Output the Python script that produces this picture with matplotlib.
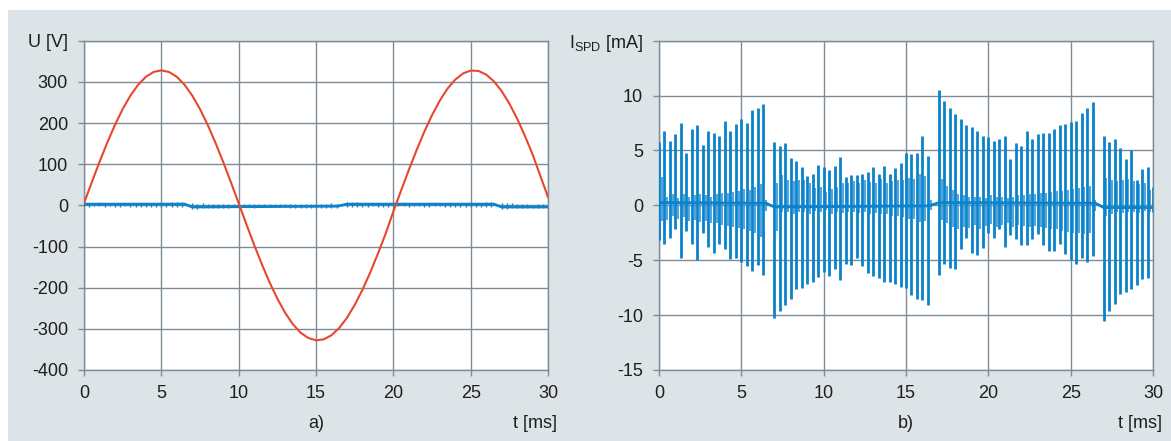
import numpy as np
import matplotlib
matplotlib.use("Agg")
import matplotlib.pyplot as plt
from matplotlib import font_manager
from matplotlib.patches import Rectangle

# ---------------- data ----------------
# a) mains voltage U [V], sampled every 0.5 ms from 0 to 30 ms
u_t = np.linspace(0, 30, 61)
u_v = [5.1, 55.8, 105.2, 152.1, 195.3, 233.8, 266.6, 292.9, 312.3, 324.0,
       328.0, 324.0, 312.3, 293.0, 266.6, 233.8, 195.3, 152.1, 105.3, 55.8,
       5.0, -45.9, -95.9, -143.2, -187.2, -226.6, -260.7, -288.6, -309.2, -322.3,
       -327.9, -325.6, -315.5, -297.9, -273.4, -242.1, -205.3, -163.6, -117.7, -69.0,
       -15.1, 35.8, 85.9, 133.9, 178.6, 219.1, 254.2, 283.5, 305.4, 320.3,
       327.4, 326.6, 317.8, 301.4, 277.8, 247.3, 210.9, 169.4, 124.1, 72.0,
       20.0]

# b) SPD current pulses [mA]: main pulse times, positive and negative peaks
pulse_t = [0.0, 0.33, 0.67, 1.0, 1.33, 1.67, 2.0, 2.33, 2.67, 3.0,
           3.33, 3.67, 4.0, 4.33, 4.67, 5.0, 5.33, 5.67, 6.0, 6.33,
           7.0, 7.33, 7.67, 8.0, 8.33, 8.67, 9.0, 9.33, 9.67, 10.0,
           10.33, 10.67, 11.0, 11.33, 11.67, 12.0, 12.33, 12.67, 13.0, 13.33,
           13.67, 14.0, 14.33, 14.67, 15.0, 15.33, 15.67, 16.0, 16.33,
           17.0, 17.33, 17.67, 18.0, 18.33, 18.67, 19.0, 19.33, 19.67, 20.0,
           20.33, 20.67, 21.0, 21.33, 21.67, 22.0, 22.33, 22.67, 23.0, 23.33,
           23.67, 24.0, 24.33, 24.67, 25.0, 25.33, 25.67, 26.0, 26.33,
           27.0, 27.33, 27.67, 28.0, 28.33, 28.67, 29.0, 29.33, 29.67, 29.97]
pulse_hi = [5.8, 6.8, 5.9, 6.5, 7.5, 4.8, 7.0, 7.3, 5.5, 6.8,
            6.6, 6.3, 7.7, 6.8, 7.4, 7.9, 7.5, 8.7, 8.9, 9.2,
            5.8, 5.4, 5.7, 4.3, 4.0, 3.5, 2.7, 2.9, 3.7, 3.5,
            3.2, 3.6, 4.4, 2.6, 2.8, 2.8, 2.9, 3.0, 3.5, 2.9,
            3.6, 2.9, 3.4, 3.9, 4.8, 4.7, 4.8, 6.3, 4.5,
            10.5, 9.5, 8.9, 8.3, 7.9, 7.3, 7.1, 6.8, 6.3, 6.2,
            5.9, 6.0, 6.3, 4.2, 5.7, 5.4, 6.8, 6.0, 6.5, 6.6,
            6.6, 7.0, 7.3, 7.4, 7.6, 7.7, 8.4, 8.9, 9.4,
            6.3, 5.8, 6.0, 5.2, 4.2, 5.0, 2.3, 3.3, 3.5, 1.7]
pulse_lo = [-3.2, -3.5, -3.0, -2.2, -4.8, -2.3, -3.5, -5.0, -2.5, -3.8,
            -4.3, -3.5, -4.0, -4.9, -4.8, -5.2, -5.5, -6.0, -5.4, -6.3,
            -10.3, -9.6, -9.1, -8.5, -7.6, -7.5, -7.2, -7.0, -6.5, -6.1,
            -6.4, -5.8, -6.8, -5.3, -5.4, -4.8, -5.5, -6.2, -6.4, -6.6,
            -7.0, -7.0, -7.2, -7.4, -7.5, -8.2, -8.5, -8.6, -9.1,
            -6.3, -5.3, -5.7, -5.8, -4.0, -3.0, -4.3, -4.5, -3.9, -2.5,
            -3.0, -2.2, -3.8, -2.7, -3.1, -3.6, -3.6, -3.1, -2.6, -3.6,
            -4.2, -4.2, -3.5, -4.4, -5.0, -5.3, -4.8, -5.2, -4.6,
            -10.5, -9.6, -9.0, -8.1, -7.9, -7.6, -7.3, -6.7, -6.6, -0.6]

# secondary (smaller) oscillations between the main pulses [mA]
small_t = [0.17, 0.5, 0.83, 1.17, 1.5, 1.83, 2.17, 2.5, 2.83, 3.17,
           3.5, 3.83, 4.17, 4.5, 4.83, 5.17, 5.5, 5.83, 6.17, 6.5,
           7.17, 7.5, 7.83, 8.17, 8.5, 8.83, 9.17, 9.5, 9.83, 10.17,
           10.5, 10.83, 11.17, 11.5, 11.83, 12.17, 12.5, 12.83, 13.17, 13.5,
           13.83, 14.17, 14.5, 14.83, 15.17, 15.5, 15.83, 16.17, 16.5,
           17.17, 17.5, 17.83, 18.17, 18.5, 18.83, 19.17, 19.5, 19.83, 20.17,
           20.5, 20.83, 21.17, 21.5, 21.83, 22.17, 22.5, 22.83, 23.17, 23.5,
           23.83, 24.17, 24.5, 24.83, 25.17, 25.5, 25.83, 26.17, 26.5,
           27.17, 27.5, 27.83, 28.17, 28.5, 28.83, 29.17, 29.5, 29.83]
small_hi = [2.6, 0.8, 1.0, 0.7, 1.0, 0.8, 0.9, 1.0, 0.9, 0.8,
            1.0, 1.1, 1.1, 1.2, 1.3, 1.5, 1.4, 1.7, 1.9, 0.5,
            2.0, 2.8, 2.3, 2.2, 2.3, 2.3, 2.0, 1.6, 1.7, 1.2,
            1.5, 1.7, 2.0, 2.0, 2.2, 2.0, 2.3, 2.1, 2.0, 2.4,
            2.0, 2.2, 2.3, 2.3, 2.5, 2.4, 2.9, 2.7, 0.5,
            2.4, 1.8, 1.4, 1.0, 0.9, 0.8, 0.8, 0.8, 0.7, 0.9,
            0.8, 0.8, 0.7, 0.8, 0.9, 0.9, 1.0, 1.0, 1.1, 1.1,
            1.2, 1.3, 1.3, 1.4, 1.5, 1.6, 1.7, 1.8, 0.5,
            2.5, 2.3, 2.2, 2.3, 2.4, 2.2, 1.9, 2.0, 1.4]
small_lo = [-1.4, -1.3, -1.0, -1.2, -1.1, -1.4, -1.3, -1.5, -1.4, -1.6,
            -1.6, -1.8, -1.9, -2.0, -2.1, -2.2, -2.3, -2.5, -2.9, -0.5,
            -2.3, -0.6, -0.6, -0.8, -0.6, -0.6, -0.8, -0.5, -0.6, -0.4,
            -0.8, -0.6, -0.7, -0.6, -0.6, -0.7, -0.6, -0.8, -0.7, -0.8,
            -0.8, -1.0, -1.0, -1.1, -1.2, -1.2, -1.5, -1.4, -0.4,
            -1.3, -1.6, -2.0, -2.2, -2.0, -2.1, -1.8, -2.2, -1.9, -1.7,
            -2.0, -1.8, -1.6, -2.0, -1.8, -1.9, -2.0, -1.9, -2.0, -2.1,
            -2.2, -2.2, -2.3, -2.4, -2.5, -2.5, -2.6, -2.5, -0.5,
            -1.0, -0.8, -0.6, -0.7, -0.6, -0.6, -0.7, -0.5, -0.6]

# current baseline [mA] (right) and current trace baseline shown in a) [V]
base_t = [0.0, 6.5, 7.0, 16.4, 17.0, 26.5, 27.0, 30.0]
base_i = [0.25, 0.2, -0.15, -0.05, 0.25, 0.2, -0.2, -0.2]
base_u = [3.0, 3.0, -4.0, -2.0, 3.0, 3.0, -4.0, -4.0]

u_ticks = [-400, -300, -200, -100, 0, 100, 200, 300, 400]
u_labels = ["-400", "-300", "-200", "-100", "0", "100", "200", "300", "U [V]"]
i_ticks = [-15, -10, -5, 0, 5, 10, 15]
i_labels = ["-15", "-10", "-5", "0", "5", "10", r"I$_\mathregular{SPD}$ [mA]"]
t_ticks = [0, 5, 10, 15, 20, 25, 30]

# ---------------- style ----------------
names = {f.name for f in font_manager.fontManager.ttflist}
fam = "Liberation Sans Narrow" if "Liberation Sans Narrow" in names else "Liberation Sans"
plt.rcParams["font.family"] = [fam, "DejaVu Sans"]
plt.rcParams["mathtext.fontset"] = "custom"
plt.rcParams["mathtext.rm"] = fam

BG = "#dde4e8"
GRID = "#7d8d97"
TXT = "#1e1e1e"
RED = "#e8472d"
BLUE = "#0a83cc"
FS = 13

W, H = 1171, 441
fig = plt.figure(figsize=(W / 100, H / 100), dpi=100, facecolor="white")
fig.patches.append(Rectangle((8 / W, 0), 1 - 8 / W, (H - 10) / H,
                             transform=fig.transFigure, facecolor=BG,
                             edgecolor="none", zorder=-10))

def px_axes(x0, x1, ytop, ybot):
    return fig.add_axes([x0 / W, 1 - ybot / H, (x1 - x0) / W, (ybot - ytop) / H])

axL = px_axes(84, 548, 40.7, 370)
axR = px_axes(659, 1153, 40.7, 370)

def style(ax, yticks, ylabels, ylim):
    ax.set_facecolor("white")
    ax.set_xlim(0, 30)
    ax.set_ylim(*ylim)
    ax.set_xticks(t_ticks)
    ax.set_xticklabels([str(t) for t in t_ticks])
    ax.set_yticks(yticks)
    ax.set_yticklabels(ylabels)
    ax.grid(True, color=GRID, lw=1.0, zorder=0)
    ax.set_axisbelow(True)
    for s in ax.spines.values():
        s.set_color(GRID)
        s.set_linewidth(1.0)
    ax.tick_params(direction="out", length=4.5, width=1.0, color=GRID,
                   labelcolor=TXT, labelsize=FS)
    ax.tick_params(axis="y", pad=7)
    ax.tick_params(axis="x", pad=6)

style(axL, u_ticks, u_labels, (-400, 400))
style(axR, i_ticks, i_labels, (-15, 15))

# a) voltage plus current trace
k_left = 0.8
axL.plot(base_t, base_u, color=BLUE, lw=2.0, zorder=3)
axL.vlines(pulse_t, np.array(pulse_lo) * k_left, np.array(pulse_hi) * k_left,
           color=BLUE, lw=1.0, zorder=3)
axL.plot(u_t, u_v, color=RED, lw=1.5, zorder=4)

# b) SPD current
axR.vlines(small_t, small_lo, small_hi, color="#2f95d6", lw=1.2, zorder=3)
axR.vlines(pulse_t, pulse_lo, pulse_hi, color=BLUE, lw=2.0, zorder=4)
axR.plot(base_t, base_i, color=BLUE, lw=2.0, zorder=4)

# captions
fig.text(316 / W, 1 - 424 / H, "a)", ha="center", va="center", fontsize=FS, color=TXT)
fig.text(557 / W, 1 - 424 / H, "t [ms]", ha="right", va="center", fontsize=FS, color=TXT)
fig.text(906 / W, 1 - 424 / H, "b)", ha="center", va="center", fontsize=FS, color=TXT)
fig.text(1162 / W, 1 - 424 / H, "t [ms]", ha="right", va="center", fontsize=FS, color=TXT)

fig.savefig("out.png", dpi=100, facecolor="white")
